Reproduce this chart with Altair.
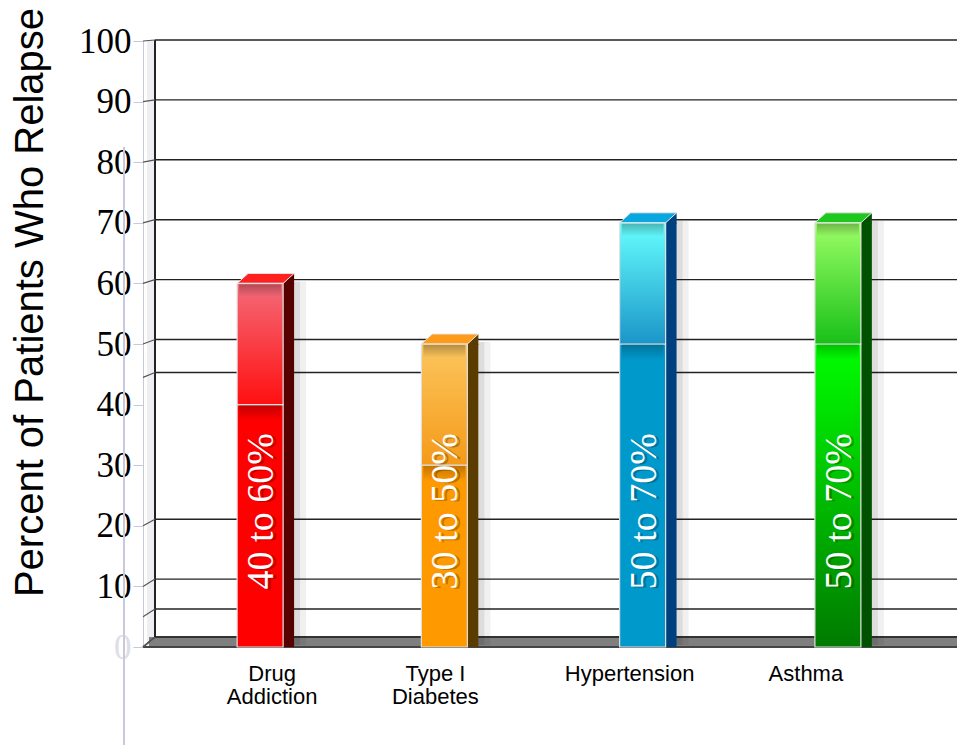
import altair as alt
import pandas as pd

# ---------------- data ----------------
categories = ["Drug Addiction", "Type I Diabetes", "Hypertension", "Asthma"]
label_lines = [["Drug", "Addiction"], ["Type I", "Diabetes"], ["Hypertension"], ["Asthma"]]
low_values = [40, 30, 50, 50]
high_values = [60, 50, 70, 70]
range_labels = ["40 to 60%", "30 to 50%", "50 to 70%", "50 to 70%"]
y_ticks = [0, 10, 20, 30, 40, 50, 60, 70, 80, 90, 100]
grid_values = [100, 90, 80, 70, 60, 50, 44.5, 20, 10, 5]

# ---------------- styles ----------------
lower_top = ["#ff0000", "#ff9900", "#0099cc", "#00ff00"]
lower_bottom = ["#ff0000", "#ff9900", "#0099cc", "#007a00"]
upper_top = ["#f46b7a", "#fcc65e", "#66ffff", "#9cff66"]
upper_bottom = ["#ff1010", "#f59a18", "#1a95c8", "#18c018"]
top_face = ["#ff2020", "#ff9a1a", "#0aa6e0", "#1ec81e"]
side_colors = ["#560000", "#5a3c00", "#00407f", "#005200"]
bar_shifts = [0, -9, -4, -2]          # small horizontal nudges of the bars (px)
label_offsets = [12, -18, -17, -34]   # horizontal shift of the category labels (px)

SERIF = "Liberation Serif, Times New Roman, serif"
SANS = "Liberation Sans, Arial, sans-serif"

W, H = 814, 606
DX, DY = 12, 10         # 3D depth offsets (pixels)
HALF = 23               # half bar width
SIDE = 11               # side face width
LABEL_BASE = 9.5        # where the rotated text starts

df = pd.DataFrame({"category": categories, "low": low_values,
                   "high": high_values, "label": range_labels})
grid_df = pd.DataFrame({"v": grid_values})

yscale = alt.Scale(domain=[0, 100], nice=False, zero=True)
xscale = alt.Scale(domain=categories, paddingInner=0, paddingOuter=0.106)

label_expr = "".join(
    f"datum.label == '{c}' ? {lines!r} : " for c, lines in zip(categories, label_lines)
) + "datum.label"
offset_expr = "".join(
    f"datum.value == '{c}' ? {o} : " for c, o in zip(categories, label_offsets)
) + "0"

x_axis = alt.Axis(title=None, labelExpr=label_expr, labelFont=SANS,
                  labelFontSize=22, labelColor="black", labelPadding=16,
                  labelOffset=alt.expr(offset_expr), labelLineHeight=23,
                  ticks=False, domain=False, labelAngle=0)
y_axis = alt.Axis(title="Percent of Patients Who Relapse", values=y_ticks, grid=False,
                  labelFont=SERIF, labelFontSize=35,
                  labelColor=alt.expr("datum.value == 0 ? '#dedee6' : 'black'"),
                  labelPadding=2, tickSize=10, tickColor="#c8c8dc", domainColor="#c8c8dc",
                  titleFont=SANS, titleFontSize=40, titleFontWeight="normal",
                  titleColor="black", titleAngle=-90, titleX=-101, titleY=261,
                  titleAlign="center", titleBaseline="alphabetic")


def X():
    return alt.X("category:N", scale=xscale, axis=x_axis, sort=categories)


def Yf(field):
    return alt.Y(field, type="quantitative", scale=yscale, axis=y_axis)


def Yd(value):
    return alt.YDatum(value, scale=yscale, axis=y_axis)


def grad(c_top, c_bot):
    return alt.Gradient(gradient="linear", x1=0, x2=0, y1=0, y2=1,
                        stops=[alt.GradientStop(color=c_top, offset=0),
                               alt.GradientStop(color=c_bot, offset=1)])


layers = []

# odd faint vertical line left of axis
layers.append(
    alt.Chart(df).mark_rule(color="#c8c8dc", strokeWidth=1.5).encode(
        x=alt.value(-19), y=Yd(82.5), y2=alt.datum(-16.6))
)
# faint glow along the axis
layers.append(
    alt.Chart(df).mark_rule(color="#eeeef3", strokeWidth=8).encode(
        x=alt.value(8), y=Yd(100), y2=alt.datum(0))
)

# floor slab
layers.append(
    alt.Chart(df).mark_rect(color="#7f7f7f", yOffset=-DY, y2Offset=0).encode(
        x=alt.value(6), x2=alt.value(W), y=Yd(0), y2=alt.datum(0))
)
layers.append(
    alt.Chart(df).mark_rule(color="#333333", strokeWidth=1.5, yOffset=-DY, y2Offset=-DY).encode(
        x=alt.value(DX), x2=alt.value(W), y=Yd(0), y2=alt.datum(0))
)
layers.append(
    alt.Chart(df).mark_rule(color="#444444", strokeWidth=1.5).encode(
        x=alt.value(0), x2=alt.value(W), y=Yd(0), y2=alt.datum(0))
)
layers.append(
    alt.Chart(df).mark_rule(color="#555555", strokeWidth=1.2, y2Offset=-DY).encode(
        x=alt.value(0), x2=alt.value(DX), y=Yd(0), y2=alt.datum(0))
)

# back wall line
layers.append(
    alt.Chart(df).mark_rule(color="#222222", strokeWidth=1.5, yOffset=-1, y2Offset=-DY).encode(
        x=alt.value(DX), y=Yd(100), y2=alt.datum(0))
)

# gridlines on back wall (slight perspective lift)
grid = alt.Chart(grid_df).transform_calculate(
    back="datum.v + (8 - 0.07 * datum.v) / 6.06"
)
layers.append(
    grid.mark_rule(color="#222222", strokeWidth=1.4).encode(
        x=alt.value(DX), x2=alt.value(W), y=Yf("back"), y2="back:Q")
)
# diagonal connectors
layers.append(
    grid.mark_rule(color="#555555", strokeWidth=1.2).encode(
        x=alt.value(0), x2=alt.value(DX), y=Yf("v"), y2="back:Q")
)

for i, cat in enumerate(categories):
    s = bar_shifts[i]
    base = alt.Chart(df).transform_filter(alt.datum.category == cat)

    # soft shadows right of the bar
    for off, sz, op in [(HALF + SIDE + 6, 12, 0.06), (HALF + SIDE + 3, 6, 0.08)]:
        layers.append(
            base.mark_bar(size=sz, xOffset=off + s, color="black", opacity=op,
                          yOffset=-2, y2Offset=3).encode(x=X(), y=Yf("high"))
        )
    # side face
    layers.append(
        base.mark_bar(size=SIDE, xOffset=HALF + SIDE / 2 + s, color=side_colors[i]).encode(
            x=X(), y=Yf("high"))
    )
    layers.append(
        base.mark_point(shape=f"M{HALF},0 L{HALF + SIDE},{-DY} L{HALF + SIDE},1 L{HALF},1 Z",
                        size=4, filled=True, opacity=1, color=side_colors[i], xOffset=s).encode(
            x=X(), y=Yf("high"))
    )
    # top face
    layers.append(
        base.mark_point(shape=f"M{-HALF},0 L{HALF},0 L{HALF + SIDE},{-DY} L{-HALF + SIDE},{-DY} Z",
                        size=4, filled=True, opacity=1, fill=top_face[i], stroke="#e6e6e6",
                        strokeWidth=1, xOffset=s).encode(
            x=X(), y=Yf("high"))
    )
    # lower front face
    layers.append(
        base.mark_bar(size=2 * HALF, color=grad(lower_top[i], lower_bottom[i]),
                      stroke="#e0e0e0", strokeWidth=1.2, xOffset=s).encode(
            x=X(), y=Yf("low"))
    )
    # shadow cast by the upper block on the lower one
    layers.append(
        base.mark_bar(size=2 * HALF - 4, color=grad("#000000", lower_top[i]),
                      opacity=0.25, y2Offset=16, xOffset=s).encode(
            x=X(), y=Yf("low"), y2=alt.Y2("low:Q"))
    )
    # upper front face
    layers.append(
        base.mark_bar(size=2 * HALF, color=grad(upper_top[i], upper_bottom[i]),
                      stroke="#e0e0e0", strokeWidth=1.2, xOffset=s).encode(
            x=X(), y=Yf("high"), y2="low:Q")
    )
    layers.append(
        base.mark_bar(size=2 * HALF - 4, color=grad("#000000", upper_top[i]),
                      opacity=0.28, y2Offset=14, yOffset=1, xOffset=s).encode(
            x=X(), y=Yf("high"), y2=alt.Y2("high:Q"))
    )
    # rotated range label (soft shadow + white text)
    layers.append(
        base.mark_text(angle=270, align="left", baseline="middle", font=SERIF,
                       fontSize=38, color="black", opacity=0.25, dy=5 + s, dx=-1).encode(
            x=X(), y=Yd(LABEL_BASE), text="label:N")
    )
    layers.append(
        base.mark_text(angle=270, align="left", baseline="middle", font=SERIF,
                       fontSize=38, color="white", dy=2 + s).encode(
            x=X(), y=Yd(LABEL_BASE), text="label:N")
    )

chart = alt.layer(*layers).properties(
    width=W, height=H,
    padding={"left": 143, "top": 41, "right": 0, "bottom": 98},
    autosize=alt.AutoSizeParams(type="none"),
    background="white",
).configure_view(stroke=None).configure_text(font=SERIF)

chart.save("out.html", embed_options={"renderer": "svg", "actions": False})
